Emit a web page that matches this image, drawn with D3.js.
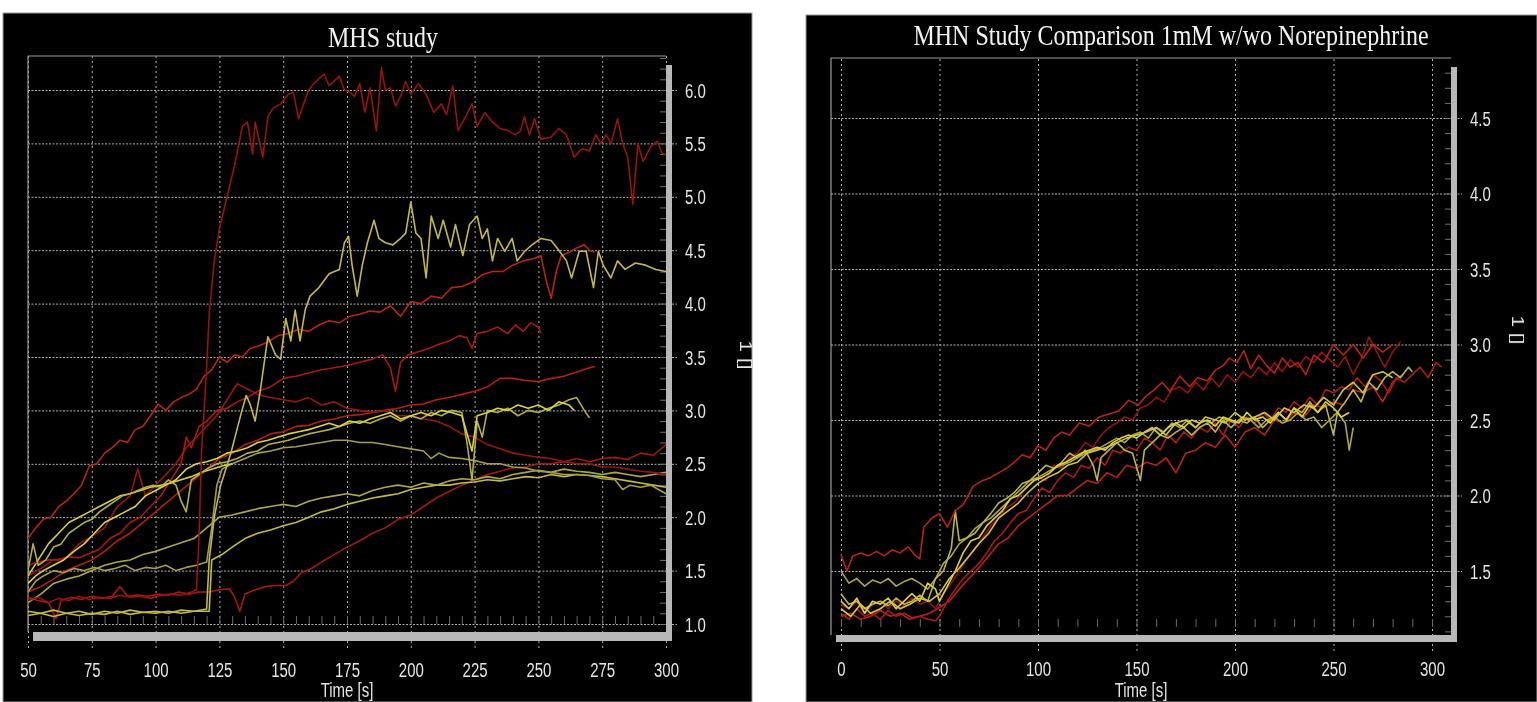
<!DOCTYPE html>
<html>
<head>
<meta charset="utf-8">
<script src="https://cdn.jsdelivr.net/npm/d3@7"></script>
<style>
body { margin: 0; background: #fff; }
svg { display: block; }
</style>
</head>
<body>
<div id="chart-area"></div>
<script>
// ---- tick labels ----
const mhsTicksX = [50, 75, 100, 125, 150, 175, 200, 225, 250, 275, 300]
const mhsTicksY = [1.0, 1.5, 2.0, 2.5, 3.0, 3.5, 4.0, 4.5, 5.0, 5.5, 6.0]
const mhnTicksX = [0, 50, 100, 150, 200, 250, 300]
const mhnTicksY = [1.5, 2.0, 2.5, 3.0, 3.5, 4.0, 4.5]

// ---- MHS study series: [time s, value] ----
const mhsR1 = [[50,1.22],[54,1.25],[58,1.2],[62,1.24],[66,1.22],[70,1.26],[74,1.23],[78,1.25],[82,1.24],[86,1.27],[90,1.25],[94,1.26],[98,1.24],[102,1.27],[106,1.28],[110,1.27],[114,1.3],[116,1.32],[117,1.8],[118,2.6],[120,3.4],[121,3.9],[123,4.4],[125,4.7],[128,5.0],[131,5.3],[134,5.66],[136,5.7],[138,5.4],[139,5.7],[142,5.37],[144,5.75],[146,5.83],[149,5.87],[152,5.96],[154,5.98],[156,5.73],[158,5.87],[160,6.0],[162,6.06],[166,6.15],[168,6.04],[172,6.13],[174,6.0],[176,5.98],[178,5.94],[180,6.06],[182,5.79],[184,6.02],[186.5,5.62],[188.5,6.21],[190,6.0],[192,6.02],[194,5.85],[196,5.94],[198,6.08],[200,5.96],[203,6.06],[206,5.96],[209,5.79],[212,5.87],[214,5.77],[216.5,6.04],[218.5,5.62],[221,5.73],[224,5.87],[226,5.66],[229,5.79],[232,5.7],[235,5.64],[238,5.62],[241,5.58],[243,5.62],[244.5,5.75],[246.5,5.58],[248.5,5.73],[251,5.54],[255,5.56],[258,5.64],[261,5.58],[264,5.37],[267,5.45],[270,5.43],[272.5,5.58],[274.5,5.5],[276.5,5.58],[278.5,5.5],[281,5.73],[283,5.5],[285,5.37],[287,4.93],[289,5.5],[291,5.33],[294,5.47],[296.5,5.52],[298.5,5.41],[300,5.39]]
const mhsY1 = [[50,1.12],[55,1.1],[60,1.13],[65,1.1],[70,1.12],[75,1.09],[80,1.12],[85,1.1],[90,1.13],[95,1.11],[100,1.12],[105,1.1],[110,1.13],[115,1.12],[120,1.14],[121,1.6],[123,2.0],[125.5,2.3],[129.5,2.6],[133.5,2.97],[135.5,3.14],[137,3.06],[139,2.9],[141,3.18],[144,3.69],[147,3.52],[149,3.48],[151,3.86],[153,3.65],[154.7,3.94],[156.6,3.65],[158.6,3.94],[160.5,4.07],[164,4.15],[168,4.28],[172,4.32],[174,4.57],[175.6,4.63],[177,4.36],[179,4.07],[181,4.36],[183,4.57],[185.6,4.78],[187.5,4.61],[190,4.57],[193,4.55],[196,4.61],[198,4.66],[200,4.95],[202,4.66],[204,4.61],[206,4.24],[208,4.82],[210.7,4.61],[212.7,4.78],[215.6,4.53],[217.5,4.74],[220.4,4.45],[223,4.74],[226,4.82],[228,4.61],[230,4.7],[232,4.4],[234,4.61],[236.8,4.49],[239.7,4.61],[241.7,4.4],[244.6,4.49],[247.5,4.55],[251,4.61],[255,4.59],[258,4.5],[261,4.4],[263,4.24],[266,4.49],[268.7,4.49],[271.6,4.15],[273.5,4.49],[275.4,4.36],[278.4,4.24],[281,4.4],[284,4.32],[288,4.38],[292,4.36],[296,4.32],[300,4.3]]
const mhsR2 = [[50,1.8],[53,1.9],[56,1.98],[59,2.0],[62,2.1],[65,2.15],[68,2.22],[71,2.3],[74,2.48],[77,2.5],[80,2.6],[83,2.65],[86,2.72],[89,2.7],[92,2.82],[95,2.85],[98,2.95],[101,3.06],[104,3.0],[107,3.08],[110,3.12],[113,3.15],[116,3.2],[119,3.32],[122,3.38],[125,3.5],[128,3.45],[131,3.52],[134,3.5],[137,3.58],[140,3.6],[144,3.64],[148,3.7],[152,3.72],[156,3.76],[160,3.74],[164,3.8],[168,3.84],[172,3.82],[176,3.88],[180,3.9],[184,3.93],[188,3.92],[192,3.98],[196,3.88],[200,4.02],[204,4.0],[208,4.07],[212,4.05],[216,4.15],[220,4.16],[224,4.2],[228,4.27],[232,4.3],[236,4.3],[240,4.36],[244,4.4],[248,4.42],[251,4.45],[253,4.22],[255,4.05],[257,4.3],[259,4.45],[262,4.48],[265,4.52],[268,4.55],[270,4.5],[272,4.48]]
const mhsR3 = [[50,1.55],[54,1.58],[58,1.6],[62,1.6],[66,1.63],[70,1.62],[74,1.66],[78,1.7],[82,1.8],[86,1.85],[90,1.95],[94,2.0],[98,2.1],[102,2.2],[106,2.35],[110,2.5],[112,2.75],[114,2.65],[117,2.85],[120,2.9],[124,3.0],[128,3.02],[132,3.08],[136,3.12],[140,3.18],[145,3.22],[150,3.3],[155,3.32],[160,3.35],[165,3.38],[170,3.4],[175,3.42],[180,3.45],[185,3.48],[189,3.52],[192,3.4],[194,3.18],[196,3.45],[199,3.52],[203,3.55],[207,3.58],[211,3.62],[215,3.65],[219,3.7],[222,3.68],[224,3.58],[226,3.72],[230,3.74],[234,3.78],[238,3.72],[241,3.8],[244,3.74],[247,3.82],[250,3.78],[251,3.72]]
const mhsR4 = [[50,1.3],[55,1.35],[60,1.42],[65,1.5],[70,1.55],[75,1.6],[80,1.68],[85,1.78],[90,1.85],[95,1.95],[100,2.05],[105,2.15],[110,2.25],[115,2.35],[120,2.45],[125,2.55],[130,2.6],[135,2.68],[140,2.72],[145,2.78],[150,2.8],[155,2.85],[160,2.86],[165,2.9],[170,2.92],[175,2.95],[180,2.96],[185,2.98],[190,3.0],[195,3.02],[200,3.05],[205,3.06],[210,3.1],[215,3.12],[220,3.15],[225,3.18],[230,3.22],[235,3.3],[240,3.3],[245,3.28],[250,3.27],[255,3.3],[260,3.32],[265,3.36],[270,3.4],[272,3.41]]
const mhsR5 = [[50,1.45],[55,1.52],[60,1.6],[65,1.62],[70,1.75],[75,1.82],[80,1.9],[85,2.1],[90,2.2],[93,2.45],[96,2.2],[100,2.3],[104,2.4],[108,2.5],[112,2.65],[116,2.75],[120,2.85],[124,2.95],[128,3.1],[132,3.25],[136,3.2],[140,3.15],[145,3.12],[150,3.1],[155,3.08],[160,3.12],[165,3.05],[170,3.08],[175,3.02],[180,3.0],[185,2.98],[190,3.0],[195,2.95],[200,2.95],[205,2.92],[210,2.9],[215,2.85],[220,2.78],[225,2.75],[230,2.68],[235,2.64],[240,2.6],[245,2.58],[250,2.56],[255,2.55],[260,2.52],[265,2.5],[270,2.5],[275,2.47],[280,2.47],[285,2.45],[290,2.43],[295,2.42],[300,2.4]]
const mhsR6 = [[50,1.25],[54,1.22],[58,1.2],[61,1.05],[63,1.22],[67,1.25],[71,1.23],[75,1.26],[79,1.24],[83,1.26],[86,1.35],[89,1.26],[93,1.27],[97,1.26],[101,1.28],[105,1.27],[109,1.3],[113,1.28],[117,1.3],[121,1.3],[125,1.32],[129,1.33],[131,1.25],[133,1.12],[135,1.28],[139,1.32],[143,1.35],[147,1.36],[151,1.36],[154,1.4],[157,1.48],[161,1.52],[165,1.58],[170,1.65],[175,1.72],[180,1.78],[185,1.85],[190,1.9],[195,1.98],[200,2.02],[205,2.1],[210,2.18],[215,2.24],[220,2.3],[225,2.35],[230,2.4],[235,2.43],[240,2.46],[245,2.47],[250,2.5],[255,2.5],[260,2.52],[265,2.55],[270,2.52],[275,2.55],[280,2.56],[285,2.54],[290,2.6],[295,2.58],[300,2.68]]
const mhsY2 = [[50,1.5],[52,1.75],[54,1.55],[57,1.6],[60,1.72],[63,1.75],[66,1.85],[69,1.9],[72,1.95],[75,1.98],[78,2.05],[81,2.1],[84,2.15],[87,2.2],[90,2.22],[93,2.25],[96,2.28],[99,2.3],[102,2.28],[105,2.35],[108,2.3],[110,2.15],[112,2.05],[114,2.35],[117,2.4],[120,2.45],[124,2.5],[128,2.52],[132,2.55],[136,2.6],[140,2.62],[144,2.68],[148,2.7],[152,2.72],[156,2.75],[160,2.78],[164,2.8],[168,2.82],[172,2.85],[176,2.88],[180,2.9],[184,2.88],[188,2.92],[192,2.95],[196,2.9],[200,2.95],[204,2.92],[208,2.98],[212,2.95],[216,3.0],[220,2.98],[222,2.7],[224,2.35],[226,2.9],[228,2.75],[230,3.0],[234,2.98],[238,3.02],[242,2.95],[246,3.0],[250,2.98],[254,3.02],[258,3.05],[262,3.1],[265,3.12],[268,3.0],[270,2.93]]
const mhsY3 = [[50,1.38],[53,1.45],[56,1.5],[60,1.55],[64,1.6],[68,1.68],[72,1.75],[76,1.85],[80,1.95],[84,2.0],[88,2.05],[92,2.1],[96,2.2],[100,2.25],[104,2.3],[108,2.35],[112,2.45],[116,2.5],[120,2.52],[124,2.55],[128,2.6],[132,2.62],[136,2.65],[140,2.7],[144,2.72],[148,2.75],[152,2.78],[156,2.8],[160,2.82],[164,2.85],[168,2.88],[172,2.85],[176,2.9],[180,2.88],[184,2.92],[188,2.95],[192,2.98],[196,2.92],[200,2.95],[204,2.98],[208,2.95],[212,3.0],[216,2.98],[220,2.95],[224,2.62],[226,2.95],[230,2.98],[234,3.02],[238,3.0],[242,3.05],[246,3.02],[250,3.05],[254,3.0],[258,3.08],[262,3.05],[264,3.0]]
const mhsY4 = [[50,1.3],[53,1.4],[56,1.45],[60,1.5],[64,1.48],[68,1.52],[72,1.5],[76,1.53],[80,1.5],[84,1.52],[88,1.55],[92,1.5],[96,1.53],[100,1.52],[104,1.55],[108,1.5],[112,1.53],[116,1.55],[120,1.58],[122,1.9],[124,2.3],[126,2.45],[130,2.5],[135,2.55],[140,2.6],[145,2.62],[150,2.65],[155,2.66],[160,2.68],[165,2.7],[170,2.72],[175,2.72],[180,2.7],[185,2.7],[190,2.68],[195,2.66],[200,2.64],[205,2.62],[208,2.55],[211,2.6],[215,2.56],[220,2.55],[225,2.53],[230,2.5],[235,2.5],[240,2.47],[245,2.46],[250,2.43],[255,2.42],[260,2.4],[265,2.4],[270,2.39],[275,2.36],[280,2.35],[283,2.26],[286,2.3],[290,2.28],[294,2.3],[297,2.26],[300,2.22]]
const mhsY5 = [[50,1.08],[55,1.1],[60,1.07],[65,1.1],[70,1.08],[75,1.1],[80,1.09],[85,1.12],[90,1.09],[95,1.11],[100,1.1],[105,1.12],[110,1.1],[115,1.12],[121,1.12],[122,1.6],[126,1.65],[130,1.72],[135,1.8],[140,1.85],[145,1.88],[150,1.92],[155,1.95],[160,2.0],[165,2.05],[170,2.08],[175,2.12],[180,2.15],[185,2.18],[190,2.2],[195,2.22],[200,2.26],[205,2.28],[210,2.3],[215,2.3],[220,2.32],[225,2.33],[230,2.35],[235,2.34],[240,2.36],[245,2.38],[250,2.37],[255,2.4],[260,2.38],[265,2.4],[270,2.39],[275,2.38],[280,2.36],[285,2.34],[290,2.32],[295,2.3],[300,2.28]]
const mhsY6 = [[50,1.2],[55,1.28],[60,1.38],[65,1.42],[70,1.45],[75,1.5],[80,1.55],[85,1.58],[90,1.6],[95,1.65],[100,1.68],[105,1.72],[110,1.76],[115,1.8],[120,1.9],[125,2.0],[130,2.02],[135,2.05],[140,2.08],[145,2.1],[150,2.12],[155,2.1],[160,2.15],[165,2.18],[170,2.2],[175,2.22],[180,2.2],[185,2.25],[190,2.28],[195,2.3],[200,2.28],[205,2.32],[210,2.3],[215,2.34],[220,2.36],[225,2.35],[230,2.38],[235,2.36],[240,2.4],[245,2.42],[250,2.44],[255,2.42],[260,2.45],[265,2.43],[270,2.42],[275,2.4],[280,2.42],[285,2.4],[290,2.38],[295,2.4],[300,2.42]]
const mhsY7 = [[50,1.45],[54,1.6],[58,1.75],[62,1.85],[66,1.95],[70,2.0],[74,2.05],[78,2.1],[82,2.15],[86,2.2],[90,2.22],[94,2.25],[98,2.28],[102,2.3],[106,2.32],[110,2.35],[114,2.38],[118,2.42],[122,2.45],[126,2.48],[130,2.5]]

// ---- MHN comparison series: [time s, value] ----
const mhnR1 = [[0,1.61],[3,1.5],[6,1.6],[10,1.62],[14,1.6],[18,1.63],[22,1.6],[26,1.64],[30,1.62],[34,1.66],[38,1.6],[40,1.58],[42,1.79],[46,1.85],[50,1.88],[54,1.79],[58,1.9],[62,1.94],[67,2.06],[72,2.1],[76,2.12],[80,2.15],[84,2.18],[88,2.22],[92,2.27],[96,2.25],[100,2.33],[104,2.3],[108,2.38],[112,2.42],[116,2.4],[121,2.48],[126,2.46],[131,2.52],[136,2.54],[141,2.56],[146,2.63],[151,2.6],[155,2.66],[159,2.7],[163,2.75],[167,2.69],[172,2.79],[177,2.72],[181,2.78],[186,2.76],[190,2.83],[194,2.86],[197,2.91],[201,2.88],[204.5,2.96],[208,2.84],[212,2.93],[216,2.86],[220,2.81],[224,2.91],[228,2.85],[232,2.88],[236,2.8],[240,2.93],[245,2.88],[250,3.0],[255,2.93],[260,3.0],[265,2.91],[270,3.0],[275,2.95],[280,3.0]]
const mhnR2 = [[0,1.22],[4,1.18],[8,1.25],[12,1.2],[16,1.22],[20,1.18],[24,1.24],[28,1.2],[32,1.22],[36,1.19],[40,1.2],[44,1.18],[48,1.17],[50,1.2],[54,1.3],[58,1.38],[62,1.45],[66,1.5],[70,1.55],[74,1.62],[78,1.7],[82,1.75],[86,1.82],[90,1.88],[94,1.9],[98,1.98],[102,2.05],[106,2.02],[110,2.1],[114,2.15],[118,2.12],[122,2.2],[126,2.18],[130,2.25],[134,2.2],[138,2.3],[142,2.28],[146,2.32],[150,2.3],[154,2.38],[158,2.35],[162,2.3],[166,2.4],[170,2.35],[174,2.42],[178,2.38],[182,2.45],[186,2.42],[190,2.48],[194,2.4],[198,2.5],[202,2.45],[206,2.52],[210,2.48],[214,2.55],[218,2.5],[222,2.58],[226,2.55],[230,2.62],[234,2.58],[238,2.65],[242,2.6],[246,2.7],[250,2.68],[254,2.72],[258,2.7],[262,2.78],[266,2.72],[270,2.8],[274,2.76],[278,2.68],[282,2.78],[286,2.75],[290,2.8],[294,2.85],[298,2.78],[302,2.88],[305,2.85]]
const mhnR3 = [[0,1.28],[4,1.25],[8,1.3],[12,1.22],[16,1.28],[20,1.3],[24,1.25],[28,1.3],[32,1.27],[36,1.32],[40,1.28],[44,1.3],[48,1.25],[52,1.35],[56,1.42],[60,1.5],[64,1.58],[68,1.65],[72,1.72],[76,1.8],[80,1.85],[84,1.92],[88,1.95],[92,2.02],[96,2.08],[100,2.12],[104,2.1],[108,2.2],[112,2.18],[116,2.25],[120,2.28],[124,2.35],[128,2.32],[132,2.4],[136,2.45],[140,2.48],[144,2.52],[148,2.5],[152,2.58],[156,2.6],[160,2.65],[164,2.62],[168,2.7],[172,2.72],[176,2.68],[180,2.75],[184,2.7],[188,2.78],[192,2.72],[196,2.8],[200,2.75],[204,2.82],[208,2.78],[212,2.85],[216,2.8],[220,2.88],[224,2.82],[228,2.9],[232,2.85],[236,2.92],[240,2.88],[244,2.95],[248,2.9],[252,2.85],[256,2.92],[260,2.8],[264,2.9],[268,3.05],[272,2.95],[276,2.85],[280,2.95],[284,3.02]]
const mhnR4 = [[0,1.2],[5,1.22],[10,1.18],[15,1.2],[20,1.24],[25,1.2],[30,1.22],[35,1.18],[40,1.2],[45,1.22],[50,1.26],[55,1.3],[60,1.38],[65,1.45],[70,1.52],[75,1.6],[80,1.68],[85,1.72],[90,1.8],[95,1.85],[100,1.9],[105,1.95],[110,2.0],[115,2.0],[120,2.05],[125,2.1],[130,2.08],[135,2.15],[140,2.12],[145,2.2],[150,2.18],[155,2.22],[160,2.2],[165,2.25],[170,2.15],[175,2.28],[180,2.3],[185,2.35],[190,2.32],[195,2.4],[200,2.32],[205,2.42],[210,2.45],[215,2.4],[220,2.5],[225,2.48],[230,2.55],[235,2.52],[240,2.6],[245,2.58],[250,2.62],[255,2.6],[260,2.7],[265,2.68],[270,2.72],[275,2.62],[280,2.75],[285,2.8]]
const mhnY1 = [[0,1.5],[4,1.42],[8,1.45],[12,1.4],[16,1.44],[20,1.42],[24,1.45],[28,1.4],[32,1.43],[36,1.45],[40,1.42],[44,1.38],[48,1.45],[52,1.55],[56,1.6],[60,1.68],[64,1.72],[68,1.78],[72,1.82],[76,1.85],[80,1.9],[84,1.95],[88,2.0],[92,2.05],[96,2.1],[100,2.12],[104,2.15],[108,2.18],[112,2.2],[116,2.22],[120,2.25],[124,2.28],[128,2.3],[132,2.32],[136,2.35],[140,2.38],[144,2.35],[148,2.4],[152,2.42],[156,2.38],[160,2.45],[164,2.42],[168,2.48],[172,2.45],[176,2.5],[180,2.45],[184,2.5],[188,2.48],[192,2.52],[196,2.5],[200,2.48],[204,2.52],[208,2.5],[212,2.45],[216,2.5],[220,2.52],[224,2.48],[228,2.5],[232,2.55],[236,2.5],[240,2.52],[244,2.45],[248,2.5],[252,2.55],[256,2.48],[258,2.3],[260,2.45]]
const mhnY2 = [[0,1.3],[4,1.25],[8,1.32],[12,1.22],[16,1.3],[20,1.28],[24,1.32],[28,1.25],[32,1.3],[36,1.35],[40,1.3],[44,1.42],[48,1.38],[50,1.3],[54,1.4],[58,1.5],[62,1.62],[66,1.7],[70,1.72],[74,1.8],[78,1.85],[82,1.9],[86,1.98],[90,2.0],[94,2.05],[98,2.1],[102,2.12],[106,2.15],[110,2.2],[114,2.22],[118,2.25],[122,2.28],[126,2.3],[130,2.32],[134,2.3],[138,2.35],[142,2.38],[146,2.4],[150,2.38],[154,2.42],[158,2.45],[162,2.4],[166,2.45],[170,2.48],[174,2.45],[178,2.5],[182,2.48],[186,2.5],[190,2.46],[194,2.52],[198,2.5],[202,2.48],[206,2.55],[210,2.5],[214,2.52],[218,2.48],[222,2.55],[226,2.5],[230,2.58],[234,2.52],[238,2.6],[242,2.55],[246,2.62],[250,2.58],[254,2.52],[258,2.55]]
const mhnY3 = [[0,1.35],[4,1.28],[8,1.3],[12,1.25],[16,1.28],[20,1.3],[24,1.27],[28,1.32],[32,1.28],[36,1.3],[40,1.34],[44,1.3],[48,1.45],[52,1.5],[56,1.65],[58,1.9],[60,1.7],[64,1.72],[68,1.75],[72,1.82],[76,1.88],[80,1.95],[84,1.98],[88,2.02],[92,2.08],[96,2.1],[100,2.15],[104,2.2],[108,2.18],[112,2.22],[116,2.28],[120,2.25],[124,2.3],[128,2.2],[130,2.1],[132,2.25],[136,2.3],[140,2.35],[144,2.3],[148,2.28],[152,2.1],[154,2.3],[158,2.35],[162,2.4],[166,2.38],[170,2.42],[174,2.45],[178,2.4],[182,2.45],[186,2.48],[190,2.42],[194,2.5],[198,2.45],[202,2.5],[206,2.48],[210,2.52],[214,2.45],[218,2.5],[222,2.55],[226,2.5],[230,2.58],[234,2.55],[238,2.62],[242,2.55],[246,2.6],[250,2.4],[252,2.55],[256,2.62],[260,2.7],[264,2.62],[268,2.75],[272,2.7],[276,2.78],[280,2.82],[284,2.78],[288,2.85],[290,2.82]]
const mhnY4 = [[0,1.25],[5,1.2],[10,1.28],[15,1.22],[20,1.25],[25,1.3],[30,1.25],[35,1.28],[40,1.32],[45,1.3],[50,1.35],[55,1.45],[60,1.52],[65,1.6],[70,1.68],[75,1.75],[80,1.85],[85,1.9],[90,1.95],[95,2.02],[100,2.08],[105,2.12],[110,2.15],[115,2.2],[120,2.22],[125,2.28],[130,2.3],[135,2.32],[140,2.35],[145,2.38],[150,2.4],[155,2.42],[160,2.45],[165,2.4],[170,2.48],[175,2.5],[180,2.45],[185,2.52],[190,2.5],[195,2.48],[200,2.55],[205,2.5],[210,2.52],[215,2.55],[220,2.5],[225,2.58],[230,2.55],[235,2.6],[240,2.58],[245,2.65],[250,2.6],[255,2.7],[260,2.75],[265,2.68],[270,2.8],[275,2.82],[280,2.78]]

const mhsLines = [mhsR6, mhsY5, mhsY6, mhsR4, mhsR5, mhsY4, mhsY7, mhsR3, mhsY2, mhsY3, mhsR2, mhsY1, mhsR1]
const mhsColors = ["#a8180f", "#c2bb40", "#aca944", "#b81e12", "#981510", "#a3a044", "#d6cf3a", "#ad1812", "#b3b042", "#dcd438", "#bb2216", "#c2ba44", "#96130e"]
const mhnLines = [mhnR4, mhnR2, mhnR3, mhnY1, mhnY3, mhnR1, mhnY2, mhnY4]
const mhnColors = ["#b82414", "#ad1a12", "#94120e", "#aca840", "#bab544", "#bb2216", "#ddd336", "#d0c73a"]

const W = 1537, H = 702

const svg = d3.select("#chart-area").append("svg")
  .attr("width", W)
  .attr("height", H)

// soft blur, the source is a scaled screenshot
const soft = svg.append("defs").append("filter").attr("id", "soft")
  .attr("x", "-5%").attr("y", "-5%").attr("width", "110%").attr("height", "110%")
soft.append("feGaussianBlur").attr("stdDeviation", 0.45)

svg.append("rect").attr("width", W).attr("height", H).attr("fill", "#fff")

drawPanel({
  id: "mhs",
  bg: {x: 3, y: 13, w: 749, h: 689},
  frame: {l: 28, t: 56, r: 666, b: 632},
  bar: {h: 9, w: 6},
  xDomain: [50, 300], xRange: [28, 666],
  yDomain: [1, 6], yRange: [624, 90],
  xTicks: mhsTicksX, yTicks: mhsTicksY,
  xMinor: 5,
  title: "MHS study", titleX: 383, titleY: 47,
  labelX: 685, xLabelY: 677,
  timeX: 347, axisLabelX: 740, axisLabelY: 355,
  lines: mhsLines, colors: mhsColors
})

drawPanel({
  id: "mhn",
  bg: {x: 806, y: 15, w: 731, h: 687},
  frame: {l: 831, t: 58, r: 1451, b: 635},
  bar: {h: 7, w: 6},
  xDomain: [0, 300], xRange: [841, 1432],
  yDomain: [1.5, 4.5], yRange: [571, 118],
  xTicks: mhnTicksX, yTicks: mhnTicksY,
  xMinor: 10,
  title: "MHN Study Comparison 1mM w/wo Norepinephrine", titleX: 1171, titleY: 45,
  labelX: 1470, xLabelY: 676,
  timeX: 1141, axisLabelX: 1512, axisLabelY: 330,
  lines: mhnLines, colors: mhnColors
})

function drawPanel(p) {
  const f = p.frame
  const g = svg.append("g").attr("class", p.id)

  // black panel
  g.append("rect")
    .attr("x", p.bg.x).attr("y", p.bg.y)
    .attr("width", p.bg.w).attr("height", p.bg.h)
    .attr("fill", "#000")
    .attr("stroke", "#9a9a9a").attr("stroke-width", 1)

  const x = d3.scaleLinear().domain(p.xDomain).range(p.xRange)
  const y = d3.scaleLinear().domain(p.yDomain).range(p.yRange)

  const fg = g.append("g").attr("filter", "url(#soft)")

  // title
  fg.append("text")
    .attr("transform", `translate(${p.titleX}, ${p.titleY}) scale(1, 1.2)`)
    .attr("text-anchor", "middle")
    .attr("font-family", "'Liberation Serif', 'Times New Roman', serif")
    .attr("font-size", "24px")
    .attr("fill", "#f2f2f2")
    .text(p.title)

  // vertical dotted grid
  const xGrid = d3.axisBottom(x).tickValues(p.xTicks).tickSize(-(f.b + 16 - f.t)).tickFormat("")
  fg.append("g")
    .attr("class", "x grid")
    .attr("transform", `translate(0, ${f.b + 16})`)
    .call(xGrid)
    .call(s => s.select(".domain").remove())
    .call(s => s.selectAll("line")
      .attr("stroke", "#b0b0b0").attr("stroke-dasharray", "2,3").attr("stroke-width", 1))

  // horizontal dotted grid
  const yGrid = d3.axisLeft(y).tickValues(p.yTicks).tickSize(-(f.r + 11 - f.l)).tickFormat("")
  fg.append("g")
    .attr("class", "y grid")
    .attr("transform", `translate(${f.l}, 0)`)
    .call(yGrid)
    .call(s => s.select(".domain").remove())
    .call(s => s.selectAll("line")
      .attr("stroke", "#b0b0b0").attr("stroke-dasharray", "2,1.5").attr("stroke-width", 1))

  // minor ticks on the right edge
  const yLo = y.invert(f.b), yHi = y.invert(f.t)
  const yMinor = d3.range(Math.ceil(yLo * 10), Math.floor(yHi * 10) + 1).map(d => d / 10)
  fg.append("g")
    .attr("transform", `translate(${f.r}, 0)`)
    .call(d3.axisLeft(y).tickValues(yMinor).tickSize(6).tickFormat(""))
    .call(s => s.select(".domain").remove())
    .call(s => s.selectAll("line").attr("stroke", "#707070"))

  // minor ticks along the bottom
  const xMinor = d3.range(p.xDomain[0], p.xDomain[1] + 1, p.xMinor)
  fg.append("g")
    .attr("transform", `translate(0, ${f.b - 8})`)
    .call(d3.axisTop(x).tickValues(xMinor).tickSize(8).tickFormat(""))
    .call(s => s.select(".domain").remove())
    .call(s => s.selectAll("line").attr("stroke", "#6a6a6a"))

  // frame
  fg.append("path")
    .attr("d", `M${f.l},${f.b}V${f.t}H${f.r}`)
    .attr("fill", "none").attr("stroke", "#9a9a9a").attr("stroke-width", 1.2)

  // series
  const clipId = p.id + "-clip"
  g.append("clipPath").attr("id", clipId)
    .append("rect").attr("x", f.l).attr("y", f.t).attr("width", f.r - f.l).attr("height", f.b - f.t)

  const line = d3.line().x(d => x(d[0])).y(d => y(d[1]))

  fg.append("g")
    .attr("clip-path", `url(#${clipId})`)
    .selectAll("path")
    .data(p.lines)
    .enter().append("path")
    .attr("d", line)
    .attr("fill", "none")
    .attr("stroke", (d, i) => p.colors[i])
    .attr("stroke-width", 1.6)
    .attr("stroke-linejoin", "round")

  // 3D shadow bars
  fg.append("rect")
    .attr("x", f.l + 5).attr("y", f.b)
    .attr("width", f.r + p.bar.w - f.l - 5).attr("height", p.bar.h)
    .attr("fill", "#b8b8b8")
  fg.append("rect")
    .attr("x", f.r).attr("y", f.t + 9)
    .attr("width", p.bar.w).attr("height", f.b + p.bar.h - f.t - 9)
    .attr("fill", "#b8b8b8")

  const labelFont = "'Liberation Sans', Arial, sans-serif"

  // x tick labels
  fg.append("g")
    .attr("class", "x axis")
    .attr("transform", `translate(0, ${p.xLabelY})`)
    .call(d3.axisBottom(x).tickValues(p.xTicks).tickSize(0).tickFormat(d3.format("d")))
    .call(s => s.select(".domain").remove())
    .call(s => s.selectAll("text")
      .attr("y", 0).attr("dy", 0)
      .attr("transform", "scale(1, 1.3)")
      .attr("fill", "#e4e4e4")
      .attr("font-family", labelFont)
      .attr("font-size", "15px"))

  // y tick labels
  fg.append("g")
    .attr("class", "y axis")
    .attr("transform", `translate(${p.labelX}, 0)`)
    .call(d3.axisRight(y).tickValues(p.yTicks).tickSize(0).tickPadding(0).tickFormat(d3.format(".1f")))
    .call(s => s.select(".domain").remove())
    .call(s => s.selectAll("text")
      .attr("x", 0).attr("y", 5.4).attr("dy", 0)
      .attr("transform", "scale(1, 1.3)")
      .attr("fill", "#e4e4e4")
      .attr("font-family", labelFont)
      .attr("font-size", "15px"))

  // axis labels
  fg.append("text")
    .attr("transform", `translate(${p.timeX}, 697) scale(1, 1.3)`)
    .attr("text-anchor", "middle")
    .attr("fill", "#e4e4e4")
    .attr("font-family", labelFont)
    .attr("font-size", "15px")
    .text("Time [s]")

  fg.append("text")
    .attr("transform", `translate(${p.axisLabelX}, ${p.axisLabelY}) rotate(90) scale(1.3, 1)`)
    .attr("text-anchor", "middle")
    .attr("fill", "#e4e4e4")
    .attr("font-family", labelFont)
    .attr("font-size", "16px")
    .text("1 []")
}
</script>
</body>
</html>
